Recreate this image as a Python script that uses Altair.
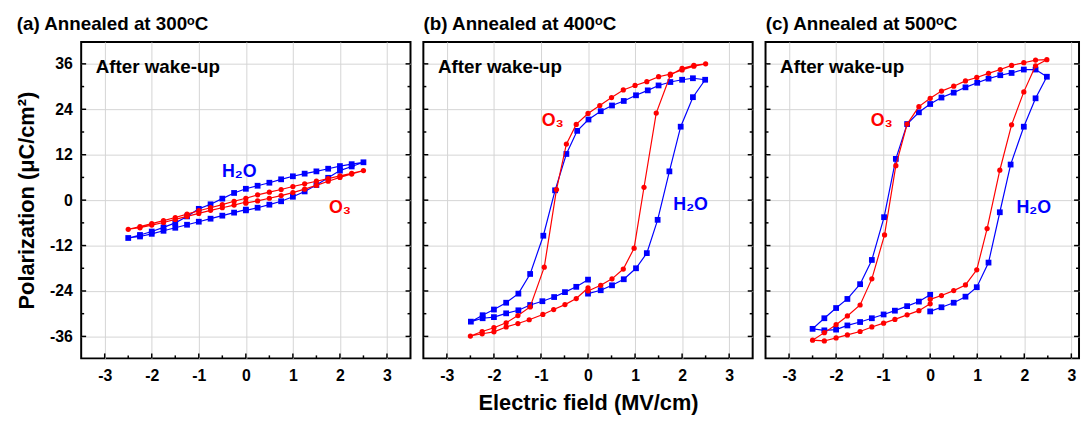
import altair as alt
import pandas as pd

FONT = "Liberation Sans, Arial, sans-serif"
BLUE = "#0000FF"
RED = "#FF0000"

# ---------------- tick values ----------------
XT = [-3, -2, -1, 0, 1, 2, 3]
XT_MINOR = [-2.5, -1.5, -0.5, 0.5, 1.5, 2.5]
YT = [-36, -24, -12, 0, 12, 24, 36]
YT_MINOR = [-30, -18, -6, 6, 18, 30]

# ---------------- panel (a) 300 C ----------------
a_E = [0, 0.25, 0.5, 0.75, 1.0, 1.25, 1.5, 1.75, 2.0, 2.25, 2.5,
       2.25, 2.0, 1.75, 1.5, 1.25, 1.0, 0.75, 0.5, 0.25, 0, -0.25, -0.5, -0.75, -1.0,
       -1.25, -1.5, -1.75, -2.0, -2.25, -2.5,
       -2.25, -2.0, -1.75, -1.5, -1.25, -1.0, -0.75, -0.5, -0.25, 0]
a_h2o_P = [-2.7, -2.0, -1.2, -0.3, 0.9, 2.3, 4.0, 5.9, 7.8, 8.9, 10.0,
           9.5, 9.0, 8.3, 7.6, 7.0, 6.3, 5.5, 4.6, 3.8, 3.0, 1.9, 0.4, -1.1, -2.3,
           -4.3, -6.0, -7.2, -8.3, -9.2, -10.0,
           -9.6, -8.9, -8.1, -7.3, -6.5, -5.7, -4.9, -4.1, -3.3, -2.5]
a_o3_P = [-0.8, -0.2, 0.5, 1.2, 2.0, 2.9, 3.9, 5.0, 6.0, 6.9, 7.8,
          7.1, 6.4, 5.7, 5.0, 4.3, 3.6, 2.8, 2.1, 1.4, 0.5, -0.3, -1.2, -2.0, -2.8,
          -3.7, -4.6, -5.4, -6.2, -7.0, -7.7,
          -7.3, -6.6, -5.9, -5.1, -4.3, -3.5, -2.7, -2.0, -1.3, -0.5]

# ---------------- panel (b) 400 C ----------------
b_h2o_E = [0.0, 0.27, 0.51, 0.76, 1.02, 1.25, 1.48, 1.73, 1.97, 2.23, 2.49,
           2.23, 2.0, 1.75, 1.5, 1.27, 1.02, 0.76, 0.51, 0.27, 0.01, -0.23, -0.46, -0.70, -0.95,
           -1.23, -1.48, -1.74, -2.0, -2.24, -2.49,
           -2.24, -2.0, -1.74, -1.48, -1.23, -0.97, -0.72, -0.49, -0.25, 0.0]
b_h2o_P = [-24.7, -23.8, -22.5, -20.9, -18.0, -14.0, -5.2, 7.6, 19.4, 27.2, 31.8,
           32.2, 31.8, 31.2, 30.3, 29.0, 27.7, 26.2, 25.0, 23.5, 21.3, 18.3, 12.2, 2.6, -9.4,
           -19.5, -24.7, -27.1, -28.9, -30.4, -32.1,
           -31.2, -30.9, -29.9, -29.1, -27.7, -26.7, -25.6, -24.3, -22.9, -21.0]
b_o3_E = [0.0, 0.27, 0.51, 0.75, 0.98, 1.19, 1.45, 1.75, 2.0, 2.25, 2.5,
          2.25, 2.0, 1.75, 1.5, 1.25, 1.0, 0.75, 0.5, 0.25, 0.0, -0.25, -0.46, -0.67, -0.93,
          -1.23, -1.49, -1.74, -2.0, -2.25, -2.5,
          -2.25, -2.0, -1.74, -1.49, -1.25, -0.96, -0.73, -0.49, -0.25, 0.0]
b_o3_P = [-24.0, -22.5, -20.8, -18.2, -12.7, 3.4, 23.0, 33.0, 34.8, 35.6, 36.0,
          35.4, 34.4, 33.3, 32.6, 31.3, 30.3, 29.1, 27.1, 25.0, 22.9, 20.0, 14.8, 2.8, -17.7,
          -28.2, -30.5, -32.4, -33.7, -34.7, -35.9,
          -35.3, -34.8, -33.5, -32.6, -31.6, -30.2, -28.9, -27.6, -26.0, -23.2]

# ---------------- panel (c) 500 C ----------------
c_h2o_E = [0.0, 0.24, 0.5, 0.75, 0.99, 1.24, 1.48, 1.71, 1.99, 2.24, 2.48,
           2.24, 1.99, 1.73, 1.49, 1.24, 1.0, 0.75, 0.5, 0.24, 0.0, -0.24, -0.49, -0.73, -0.98,
           -1.24, -1.49, -1.76, -2.0, -2.25, -2.5,
           -2.25, -2.0, -1.76, -1.49, -1.24, -0.99, -0.75, -0.49, -0.24, 0.0]
c_h2o_P = [-29.4, -28.3, -27.1, -25.5, -23.0, -16.5, -3.2, 9.4, 19.4, 26.9, 32.6,
           34.5, 34.5, 33.6, 33.0, 32.1, 31.0, 29.8, 28.4, 27.1, 25.4, 23.2, 20.1, 10.9, -4.5,
           -15.8, -22.2, -26.1, -28.5, -31.2, -34.0,
           -34.4, -34.2, -33.1, -32.2, -31.2, -30.2, -29.2, -28.0, -26.8, -25.0]
c_o3_E = [0.0, 0.24, 0.5, 0.75, 0.99, 1.21, 1.48, 1.73, 1.99, 2.24, 2.48,
          2.24, 1.99, 1.73, 1.49, 1.24, 0.99, 0.75, 0.5, 0.24, 0.0, -0.24, -0.49, -0.73, -0.97,
          -1.24, -1.49, -1.76, -2.0, -2.25, -2.5,
          -2.25, -2.0, -1.76, -1.49, -1.24, -0.99, -0.75, -0.49, -0.24, 0.0]
c_o3_P = [-26.2, -25.2, -23.9, -22.4, -18.4, -7.5, 7.9, 19.9, 28.6, 35.5, 37.1,
          37.0, 36.3, 35.6, 34.5, 33.5, 32.4, 31.5, 30.1, 28.8, 26.9, 24.7, 20.1, 9.1, -9.2,
          -20.8, -27.7, -30.6, -32.9, -35.0, -37.0,
          -37.2, -36.4, -35.6, -34.7, -33.5, -32.5, -31.5, -30.3, -29.2, -27.4]

# ---------------- annotations ----------------
titles = ["(a) Annealed at 300ᵒC", "(b) Annealed at 400ᵒC", "(c) Annealed at 500ᵒC"]
note_text = "After  wake-up"
note_E = -3.19
note_P = 35.2
gas_text = ["H₂O", "O₃"]
a_gas_E = [-0.14, 2.0]
a_gas_P = [7.3, -2.2]
b_gas_E = [2.18, -0.75]
b_gas_P = [-1.2, 20.9]
c_gas_E = [2.2, -1.03]
c_gas_P = [-2.0, 20.9]

H = 320
PX_PER_UNIT = 333 / 7.0
YS = alt.Scale(domain=[-41.8, 41.8], nice=False, zero=False)


def panel(h2o_E, h2o_P, o3_E, o3_P, gas_E, gas_P, title, first, middle, W):
    xmax = -3.5 + W / PX_PER_UNIT
    XS = alt.Scale(domain=[-3.5, xmax], nice=False, zero=False)
    xaxis_kw = dict(values=XT, grid=True, ticks=False, tickSize=0, domain=False,
                    labelFont=FONT, labelFontSize=16, labelFontWeight="bold",
                    labelColor="black", labelPadding=9, gridColor="#d4d4d4", gridWidth=1,
                    labelExpr="'' + datum.value")
    if middle:
        xaxis_kw.update(title="Electric field (MV/cm)", titleFont=FONT, titleFontSize=22,
                        titleFontWeight="bold", titleColor="black", titlePadding=10)
    else:
        xaxis_kw.update(title="")
    yaxis_kw = dict(values=YT, grid=True, ticks=False, tickSize=0, domain=False,
                    labelFont=FONT, labelFontSize=16, labelFontWeight="bold",
                    labelColor="black", labelPadding=9, gridColor="#d4d4d4", gridWidth=1,
                    labelExpr="'' + datum.value")
    if first:
        yaxis_kw.update(title="Polarization (μC/cm²)", titleFont=FONT, titleFontSize=22,
                        titleFontWeight="bold", titleColor="black", titlePadding=11)
    else:
        yaxis_kw.update(title="", labels=False)
    XA = alt.Axis(**xaxis_kw)
    YA = alt.Axis(**yaxis_kw)

    def xe(f):
        return alt.X(f, scale=XS, axis=XA)

    def ye(f):
        return alt.Y(f, scale=YS, axis=YA)

    layers = []
    series = [(h2o_E, h2o_P, BLUE, "square", 34), (o3_E, o3_P, RED, "circle", 28)]
    for E, P, col, shape, size in series:
        df = pd.DataFrame({"E": E, "P": P, "idx": list(range(len(E)))})
        base = alt.Chart(df).encode(x=xe("E:Q"), y=ye("P:Q"), order="idx:Q")
        layers.append(base.mark_line(color=col, strokeWidth=1.2))
        layers.append(base.mark_point(shape=shape, size=size, filled=True, color=col, opacity=1))

    # inward ticks on left, right and bottom
    for vals, ln in ((YT, 5), (YT_MINOR, 3)):
        tdf = pd.DataFrame({"P": vals})
        layers.append(alt.Chart(tdf).mark_rule(color="black", strokeWidth=1.5).encode(
            y=ye("P:Q"), x=alt.value(0), x2=alt.value(ln)))
        layers.append(alt.Chart(tdf).mark_rule(color="black", strokeWidth=1.5).encode(
            y=ye("P:Q"), x=alt.value(W), x2=alt.value(W - ln)))
    for vals, ln in ((XT, 5), (XT_MINOR, 3)):
        tdf = pd.DataFrame({"E": vals})
        layers.append(alt.Chart(tdf).mark_rule(color="black", strokeWidth=1.5).encode(
            x=xe("E:Q"), y=alt.value(H), y2=alt.value(H - ln)))

    # annotations
    ndf = pd.DataFrame({"E": [note_E], "P": [note_P], "t": [note_text]})
    layers.append(alt.Chart(ndf).mark_text(align="left", baseline="middle", font=FONT,
                                           fontSize=19, fontWeight="bold", color="black").encode(
        x=xe("E:Q"), y=ye("P:Q"), text="t:N"))
    gdf = pd.DataFrame({"E": gas_E, "P": gas_P, "t": gas_text})
    layers.append(alt.Chart(gdf).mark_text(align="center", baseline="middle", font=FONT,
                                           fontSize=18, fontWeight="bold").encode(
        x=xe("E:Q"), y=ye("P:Q"), text="t:N",
        color=alt.Color("t:N", scale=alt.Scale(domain=gas_text, range=[BLUE, RED]), legend=None)))

    return alt.layer(*layers).properties(
        width=W, height=H,
        title=alt.TitleParams(title, anchor="start", font=FONT, fontSize=19, fontWeight="bold",
                              color="black", offset=8, dx=1))


pa = panel(a_E, a_h2o_P, a_E, a_o3_P, a_gas_E, a_gas_P, titles[0], True, False, 333)
pb = panel(b_h2o_E, b_h2o_P, b_o3_E, b_o3_P, b_gas_E, b_gas_P, titles[1], False, True, 333)
pc = panel(c_h2o_E, c_h2o_P, c_o3_E, c_o3_P, c_gas_E, c_gas_P, titles[2], False, False, 317)

chart = alt.hconcat(pa, pb, pc, spacing=9).properties(
    padding={"left": 6, "top": 4, "right": 0, "bottom": 0},
    background="white",
).configure_view(stroke="black", strokeWidth=2)

chart.save("out.html", embed_options={"renderer": "svg", "actions": False})
